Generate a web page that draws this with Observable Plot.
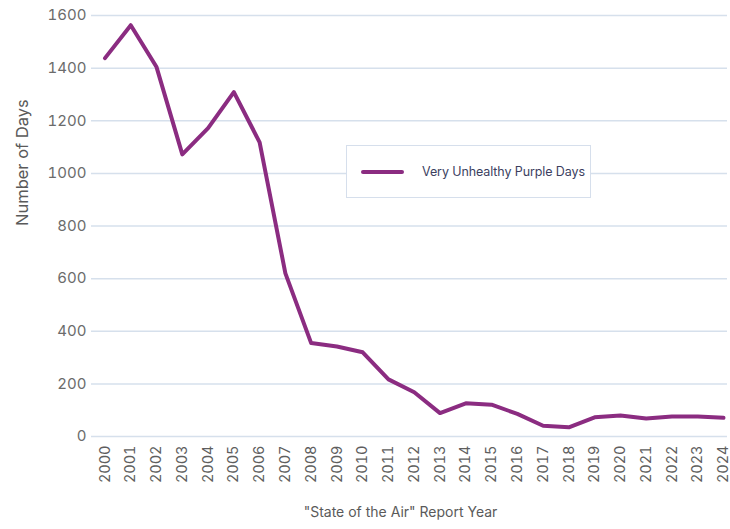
<!DOCTYPE html>
<html>
<head>
<meta charset="utf-8">
<script src="https://cdn.jsdelivr.net/npm/d3@7"></script>
<script src="https://cdn.jsdelivr.net/npm/@observablehq/plot@0.6"></script>
<style>
  html, body { margin: 0; padding: 0; background: #fff; }
  #wrap { position: relative; width: 730px; height: 529px; font-family: Inter, "Noto Sans", sans-serif; }
  #legend {
    position: absolute; left: 346px; top: 145px; width: 245px; height: 53px;
    box-sizing: border-box; border: 1.5px solid #d6dfec; background: #fff;
    display: flex; align-items: center;
  }
  #legend .sw { width: 43px; height: 4px; border-radius: 2px; background: #8b2c81; margin-left: 14px; }
  #legend .lb { margin-left: 18px; font-size: 12.5px; color: #3c3f5f; letter-spacing: -0.1px; }
</style>
</head>
<body>
<div id="wrap"></div>
<script>
const years = [2000,2001,2002,2003,2004,2005,2006,2007,2008,2009,2010,2011,2012,2013,2014,2015,2016,2017,2018,2019,2020,2021,2022,2023,2024];
const purpleDays = [1438,1563,1404,1072,1172,1309,1118,620,355,342,320,217,168,89,126,121,86,41,35,73,80,68,76,76,71];
const yTicks = [0,200,400,600,800,1000,1200,1400,1600];
const seriesName = "Very Unhealthy Purple Days";
const yLabel = "Number of Days";
const xLabel = "\"State of the Air\" Report Year";

const data = years.map((y, i) => ({year: y, days: purpleDays[i]}));

const chart = Plot.plot({
  width: 730,
  height: 529,
  marginTop: 15,
  marginBottom: 93,
  marginLeft: 91,
  marginRight: 3,
  style: {fontFamily: "Inter, 'Noto Sans', sans-serif", background: "#fff"},
  x: {domain: [2000, 2024], range: [104.5, 723]},
  y: {domain: [0, 1600]},
  marks: [
    Plot.ruleY(yTicks, {stroke: "#d6e0ec", strokeWidth: 1.5}),
    Plot.axisY({ticks: yTicks, tickSize: 0, tickPadding: 5, label: null, fontSize: 15, color: "#6b6b6b", tickFormat: d => String(d)}),
    Plot.axisX({ticks: years, tickSize: 0, tickPadding: 9, tickRotate: -90, label: null, fontSize: 14.5, color: "#5e5e5e", tickFormat: d => String(d)}),
    Plot.line(data, {x: "year", y: "days", stroke: "#8b2c81", strokeWidth: 4, strokeLinejoin: "round", strokeLinecap: "round"}),
    Plot.text([yLabel], {frameAnchor: "left", dx: -69, rotate: -90, fontSize: 16.5, fill: "#5a5a5a", text: d => d}),
    Plot.text([xLabel], {frameAnchor: "bottom", dy: 80, dx: -9, fontSize: 14, fill: "#5a5a5a", text: d => d})
  ]
});
const wrap = document.getElementById("wrap");
wrap.appendChild(chart);
const lg = document.createElement("div");
lg.id = "legend";
lg.innerHTML = `<div class="sw"></div><div class="lb">${seriesName}</div>`;
wrap.appendChild(lg);
</script>
</body>
</html>
